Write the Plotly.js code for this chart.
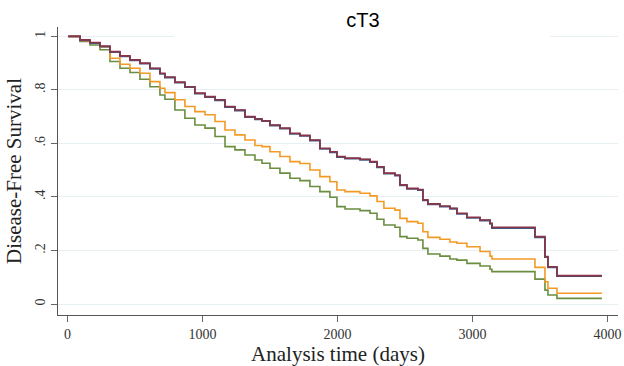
<!DOCTYPE html>
<html>
<head>
<meta charset="utf-8">
<script src="https://cdn.plot.ly/plotly-3.0.1.min.js"></script>
<style>html,body{margin:0;padding:0;background:#fff;}#chart{width:624px;height:366px;}</style>
</head>
<body>
<div id="chart"></div>
<script>
// Analysis time (days)
const days = [6, 93, 167, 241, 315, 389, 463, 537, 611, 685, 722, 796, 870, 944, 1019, 1093, 1167, 1241, 1315, 1389, 1441, 1500, 1574, 1648, 1722, 1796, 1870, 1944, 1996, 2056, 2167, 2241, 2293, 2344, 2426, 2463, 2515, 2596, 2633, 2670, 2759, 2833, 2885, 2959, 3056, 3130, 3144, 3463, 3537, 3559, 3626, 3959];

// Disease-free survival, four groups (navy and maroon nearly coincide)
const survNavy = [1.0, 0.985, 0.975, 0.962, 0.941, 0.925, 0.910, 0.898, 0.879, 0.860, 0.846, 0.827, 0.810, 0.786, 0.773, 0.761, 0.736, 0.723, 0.698, 0.690, 0.683, 0.667, 0.655, 0.636, 0.628, 0.611, 0.580, 0.567, 0.549, 0.543, 0.539, 0.530, 0.511, 0.487, 0.480, 0.443, 0.430, 0.426, 0.387, 0.372, 0.364, 0.356, 0.337, 0.322, 0.312, 0.300, 0.284, 0.249, 0.175, 0.137, 0.104, 0.104];
const survMaroon = [1.0, 0.987, 0.977, 0.964, 0.943, 0.927, 0.912, 0.900, 0.881, 0.862, 0.848, 0.829, 0.812, 0.788, 0.775, 0.763, 0.738, 0.725, 0.700, 0.692, 0.685, 0.669, 0.657, 0.638, 0.630, 0.613, 0.582, 0.569, 0.551, 0.545, 0.541, 0.532, 0.513, 0.489, 0.482, 0.445, 0.432, 0.428, 0.389, 0.374, 0.366, 0.358, 0.339, 0.324, 0.314, 0.302, 0.287, 0.252, 0.177, 0.139, 0.106, 0.106];
const survOrange = [1.0, 0.984, 0.975, 0.960, 0.918, 0.896, 0.881, 0.862, 0.831, 0.806, 0.790, 0.763, 0.738, 0.719, 0.707, 0.682, 0.650, 0.632, 0.613, 0.592, 0.588, 0.569, 0.551, 0.532, 0.525, 0.501, 0.476, 0.457, 0.426, 0.420, 0.414, 0.404, 0.383, 0.358, 0.351, 0.320, 0.308, 0.302, 0.270, 0.249, 0.242, 0.232, 0.227, 0.214, 0.196, 0.179, 0.168, 0.137, 0.083, 0.059, 0.040, 0.040];
const survGreen = [1.0, 0.981, 0.968, 0.950, 0.906, 0.881, 0.865, 0.840, 0.812, 0.781, 0.765, 0.725, 0.694, 0.669, 0.657, 0.626, 0.588, 0.576, 0.557, 0.538, 0.526, 0.507, 0.489, 0.470, 0.461, 0.439, 0.420, 0.399, 0.364, 0.355, 0.349, 0.339, 0.317, 0.295, 0.287, 0.252, 0.246, 0.239, 0.208, 0.187, 0.179, 0.168, 0.164, 0.152, 0.142, 0.130, 0.121, 0.093, 0.052, 0.034, 0.021, 0.021];

const yTickVals = [0, 0.2, 0.4, 0.6, 0.8, 1];
const yTickText = ["0", ".2", ".4", ".6", ".8", "1"];
const xTickVals = [0, 1000, 2000, 3000, 4000];

function trace(y, color, w) {
  return {x: days, y: y, type: 'scatter', mode: 'lines', line: {shape: 'hv', color: color, width: w}, hoverinfo: 'skip', showlegend: false};
}

const data = [
  trace(survGreen, '#6a8d3f', 1.6),
  trace(survOrange, '#f39a26', 1.6),
  trace(survNavy, '#3f5682', 1.8),
  trace(survMaroon, '#8a3448', 1.6)
];

const serif = 'Liberation Serif, Times New Roman, serif';
const layout = {
  width: 624, height: 366,
  margin: {l: 58, r: 6, t: 27, b: 51},
  paper_bgcolor: '#ffffff', plot_bgcolor: '#ffffff',
  title: {text: 'cT3', font: {family: 'Liberation Sans, Arial, sans-serif', size: 20, color: '#000'},
          x: 363/624, xref: 'container', xanchor: 'center', y: 1 - 20/366, yref: 'container', yanchor: 'middle'},
  xaxis: {range: [-70, 4078], tickvals: xTickVals, ticks: 'outside', ticklen: 6, tickcolor: '#666', tickwidth: 1,
          showgrid: false, zeroline: false, showline: true, linecolor: '#555', linewidth: 1,
          tickfont: {family: serif, size: 14, color: '#333'},
          title: {text: 'Analysis time (days)', font: {family: serif, size: 21, color: '#222'}, standoff: 4}},
  yaxis: {range: [-0.041, 1.035], tickvals: yTickVals, ticktext: yTickText, tickangle: -90, ticks: 'outside', ticklen: 6,
          tickcolor: '#666', tickwidth: 1, showgrid: true, gridcolor: '#e6eff1', gridwidth: 1, zeroline: false,
          showline: true, linecolor: '#555', linewidth: 1,
          tickfont: {family: serif, size: 14, color: '#333'},
          title: {text: 'Disease-Free Survival', font: {family: serif, size: 21, color: '#222'}, standoff: 6}},
  shapes: [{type: 'rect', xref: 'paper', yref: 'y', x0: 0.207, x1: 0.879, y0: 0.985, y1: 1.015,
            fillcolor: '#ffffff', line: {width: 0}, layer: 'above'}]
};

Plotly.newPlot('chart', data, layout, {staticPlot: true, displayModeBar: false});
</script>
</body>
</html>
